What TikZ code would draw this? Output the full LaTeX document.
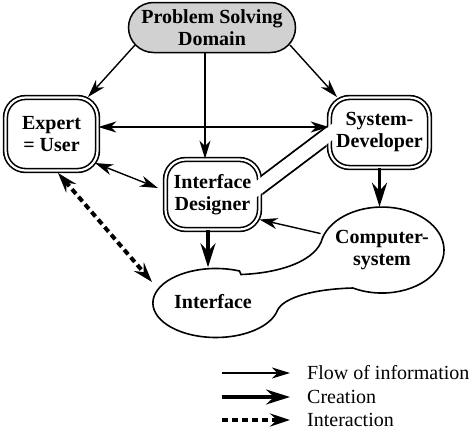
\documentclass[tikz,border=0pt]{standalone}
\usepackage{fontspec}
\setmainfont{Liberation Serif}
\usetikzlibrary{arrows.meta,shapes.geometric,shapes.misc,calc}
\tikzset{
  ftip/.tip={Stealth[length=18pt,width=11pt,inset=5.5pt]},
  ctip/.tip={Stealth[length=24pt,width=15pt,inset=8pt]},
  dtip/.tip={Stealth[length=20pt,width=13pt,inset=7pt]},
}
\begin{document}
\begin{tikzpicture}[x=1pt,y=-1pt,
  bl/.style={font=\fontsize{20}{22}\selectfont\bfseries, align=center, inner sep=0pt},
  dbox/.style={draw, line width=1.6pt, double=white, double distance=2.2pt, rounded corners=20pt},
  flow/.style={line width=1.4pt, -ftip},
  flowtwo/.style={line width=1.4pt, ftip-ftip},
  create/.style={line width=3.2pt, -ctip},
  inter/.style={line width=4pt, dash pattern=on 6pt off 4pt, dtip-dtip},
  interone/.style={line width=4pt, dash pattern=on 6pt off 4pt, -dtip},
  legtxt/.style={font=\fontsize{20}{22}\selectfont, anchor=west, inner sep=0pt},
]
\useasboundingbox (0,0) rectangle (474,432);

% boxes
\node[rounded rectangle, draw, line width=1.5pt, fill=black!18, minimum width=167pt, minimum height=50pt, bl] (PSD) at (212,27.5) {Problem Solving\\Domain};
\node[dbox, bl, minimum width=92pt, minimum height=73pt] (EU) at (51.5,134) {Expert\\= User};
\node[dbox, minimum width=100pt, minimum height=70pt] (SDb) at (379.5,132.5) {};
\node[dbox, minimum width=94pt, minimum height=70pt] (IDb) at (212.5,194.5) {};
\node[ellipse, minimum width=124pt, minimum height=86pt, bl] (CS) at (382,250) {Computer-\\system};
\node[ellipse, minimum width=126pt, minimum height=69pt, bl] (IF) at (213,302) {Interface};

% blob outline joining Interface and Computer-system
\draw[line width=1.6pt] (239.5,271) arc[start angle=-68, end angle=-348, x radius=63, y radius=34.5]
  .. controls (284,297) and (315,289) .. (352.9,288)
  arc[start angle=118, end angle=-164, x radius=62, y radius=43]
  .. controls (317,260) and (282,273) .. (241,274.5) -- cycle;

% tube between Interface Designer and System-Developer
\coordinate (t1) at ($(IDb.center)+(46,-7)$);
\coordinate (t2) at ($(SDb.center)+(-50,1.5)$);
\coordinate (c1) at ($(IDb.south west)+(-2,2)$);
\coordinate (c2) at ($(IDb.north east)+(2,-2)$);
\coordinate (c3) at ($(SDb.south west)+(-2,2)$);
\coordinate (c4) at ($(SDb.north east)+(2,-2)$);
\coordinate (e1) at ($(t1)!-30pt!(t2)$);
\coordinate (e2) at ($(t2)!-30pt!(t1)$);
\begin{scope}[even odd rule, rounded corners=22pt]
  \clip (0,0) rectangle (474,432) (c1) rectangle (c2) (c3) rectangle (c4);
  \draw[line width=2pt, double=white, double distance=13pt] (e1) -- (e2);
\end{scope}
\draw[white, line width=13pt] ($(t1)!-20pt!(t2)$) -- ($(t2)!-20pt!(t1)$);

% texts of the two boxes
\node[bl] (SD) at (SDb.center) {System-\\Developer};
\node[bl] (ID) at (IDb.center) {Interface\\Designer};

% connectors
\draw[flow] ($(PSD.center)+(-77,17.5)$) -- ($(EU.center)+(36.5,-37)$);
\draw[flow] ($(PSD.south -| IDb.north)+(-7.5,0)$) -- ($(IDb.north)+(-7.5,0)$);
\draw[flow] ($(PSD.center)+(78,17.5)$) -- ($(SDb.center)+(-42.5,-35.5)$);
\draw[flowtwo] ($(EU.east)+(0,-7)$) -- ($(SDb.west)+(0,-5.5)$);
\draw[flowtwo] ($(EU.center)+(43.5,29)$) -- ($(IDb.center)+(-54.5,-6.5)$);
\draw[create] (SDb.south) -- (SDb.south |- CS.north);
\coordinate (a) at ($(IDb.south)+(-4.5,0)$);
\draw[create] (a) -- (a |- IF.north);
\draw[flow] (CS.165) -- ($(IDb.center)+(47,25)$);
\draw[inter] ($(EU.center)+(6.5,39)$) -- ($(IF.center)+(-61,-20)$);

% legend
\node[legtxt] (L1) at (307,373) {Flow of information};
\node[legtxt] (L2) at (307,397) {Creation};
\node[legtxt] (L3) at (307,420) {Interaction};
\draw[flow] ($(L1.west)+(-85,0)$) -- ($(L1.west)+(-17,0)$);
\draw[create] ($(L2.west)+(-85,0)$) -- ($(L2.west)+(-17,0)$);
\draw[interone] ($(L3.west)+(-85,0)$) -- ($(L3.west)+(-17,0)$);
\end{tikzpicture}
\end{document}
